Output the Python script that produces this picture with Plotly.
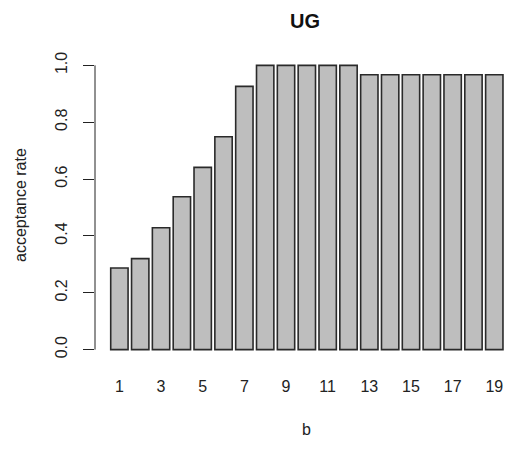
import plotly.graph_objects as go

b_values = list(range(1, 20))
acceptance_rate = [0.287, 0.320, 0.429, 0.538, 0.641, 0.749, 0.926,
                   1.0, 1.0, 1.0, 1.0, 1.0,
                   0.967, 0.967, 0.967, 0.967, 0.967, 0.967, 0.967]
x_tick_vals = [1, 3, 5, 7, 9, 11, 13, 15, 17, 19]
x_tick_text = [str(v) for v in x_tick_vals]
y_tick_vals = [0.0, 0.2, 0.4, 0.6, 0.8, 1.0]
y_tick_text = ["0.0", "0.2", "0.4", "0.6", "0.8", "1.0"]

W, H = 506, 449
ML, MR, MT, MB = 95, 0, 54, 88
pw = W - ML - MR
ph = H - MT - MB

def px_to_paper_x(px):
    return (px - ML) / pw

def px_to_paper_y(py):
    return (H - MB - py) / ph

font_fam = "Liberation Sans, Arial, sans-serif"

fig = go.Figure()
fig.add_trace(go.Bar(
    x=b_values, y=acceptance_rate, width=1/1.2,
    marker=dict(color="#BEBEBE", line=dict(color="#2a2a2a", width=1.6)),
    showlegend=False,
))

fig.update_layout(
    width=W, height=H,
    margin=dict(l=ML, r=MR, t=MT, b=MB),
    paper_bgcolor="white", plot_bgcolor="white",
    font=dict(family=font_fam, color="#222222", size=16),
    xaxis=dict(range=[-0.171, 19.562], tickvals=x_tick_vals, ticktext=x_tick_text,
               showgrid=False, zeroline=False, showline=False, ticks="",
               ticklabelstandoff=14, tickfont=dict(size=16)),
    yaxis=dict(range=[-0.04, 1.04], tickvals=y_tick_vals, ticktext=y_tick_text,
               showgrid=False, zeroline=False, showline=False,
               ticks="outside", ticklen=11, tickcolor="#222222", tickwidth=1,
               tickangle=-90, ticklabelstandoff=10, tickfont=dict(size=16)),
    shapes=[dict(type="line", xref="paper", yref="y", x0=0, x1=0, y0=0, y1=1,
                 line=dict(color="#222222", width=1))],
    annotations=[
        dict(text="<b>UG</b>", xref="paper", yref="paper",
             x=px_to_paper_x(305), y=px_to_paper_y(21),
             xanchor="center", yanchor="middle", showarrow=False,
             font=dict(size=20, color="#111111")),
        dict(text="b", xref="paper", yref="paper",
             x=px_to_paper_x(306), y=px_to_paper_y(429),
             xanchor="center", yanchor="middle", showarrow=False,
             font=dict(size=16)),
        dict(text="acceptance rate", xref="paper", yref="paper",
             x=px_to_paper_x(20), y=px_to_paper_y(205), textangle=-90,
             xanchor="center", yanchor="middle", showarrow=False,
             font=dict(size=16)),
    ],
)

fig.write_html("out.html", config={"displayModeBar": False},
               post_script="document.body.style.margin='0';document.body.style.overflow='hidden';")
